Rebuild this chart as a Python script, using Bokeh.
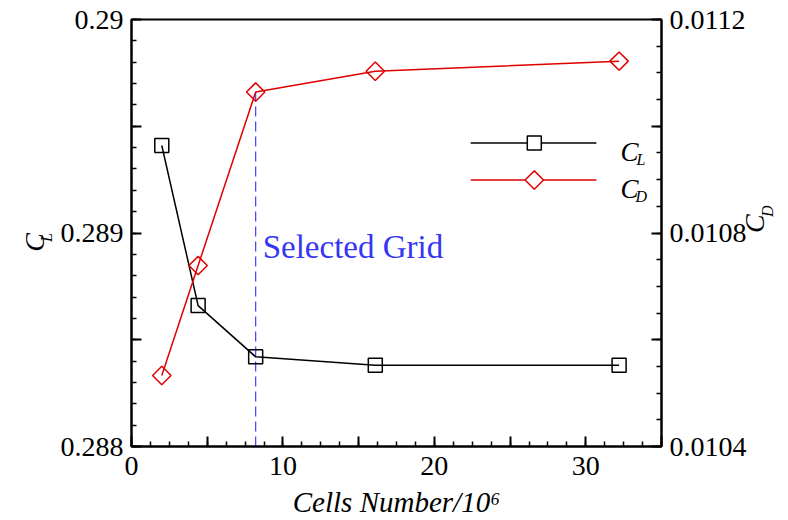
from bokeh.plotting import figure
from bokeh.models import Range1d, LinearAxis, FixedTicker, Label
from bokeh.embed import file_html
from bokeh.resources import INLINE

# ---------------- data ----------------
cells = [2.0, 4.4, 8.2, 16.1, 32.2]              # Cells Number / 10^6
cl = [0.28941, 0.28866, 0.28842, 0.28838, 0.28838]
cd = [0.010533, 0.010739, 0.011064, 0.011103, 0.011122]
selected_cells = 8.2
selected_text = "Selected Grid"

x_range = (0, 35)
cl_range = (0.288, 0.290)
cd_range = (0.0104, 0.0112)

x_major = [0, 5, 10, 15, 20, 25, 30, 35]
x_labels = ["0", "", "10", "", "20", "", "30", ""]
cl_major = [0.288, 0.2885, 0.289, 0.2895, 0.29]
cl_labels = ["0.288", "", "0.289", "", "0.29"]
cd_major = [0.0104, 0.0106, 0.0108, 0.011, 0.0112]
cd_labels = ["0.0104", "", "0.0108", "", "0.0112"]
x_minor_step = 1.25
cl_minor_step = 0.0001
cd_minor_step = 0.00005
x_title = "Cells Number/10\u2076"
cl_title, cl_sub = "C", "L"
cd_title, cd_sub = "C", "D"

# ---------------- styles ----------------
FONT = "Liberation Serif"
BLACK = "black"
RED = "#e00000"
BLUE = "#3535f5"
DASH_BLUE = "#3d3dff"
ENSP = "\u2002"
TICK_FONT = "28px"
UP = 1.5707963
LABEL_CAN_UNCLIP = "clip" in Label.properties()


def minor_list(lo, hi, step):
    n = int(round((hi - lo) / step))
    return [lo + i * step for i in range(n + 1)]


p = figure(width=788, height=520,
           x_range=Range1d(*x_range), y_range=Range1d(*cl_range),
           output_backend="svg", toolbar_location=None,
           min_border_left=131, min_border_right=125,
           min_border_top=19, min_border_bottom=73)
p.extra_y_ranges = {"cd": Range1d(*cd_range)}
p.xgrid.visible = False
p.ygrid.visible = False
p.outline_line_color = BLACK
p.outline_line_width = 2
p.background_fill_color = "white"
p.border_fill_color = "white"

cd_axis = LinearAxis(y_range_name="cd")
p.add_layout(cd_axis, "right")


def style_axis(ax, major, labels, minor, standoff):
    ax.ticker = FixedTicker(ticks=major, minor_ticks=minor)
    ax.major_label_overrides = {k: v for k, v in zip(major, labels)}
    ax.axis_line_color = BLACK
    ax.axis_line_width = 2
    ax.major_tick_line_color = BLACK
    ax.major_tick_line_width = 2
    ax.minor_tick_line_color = BLACK
    ax.minor_tick_line_width = 1.5
    ax.major_tick_in = 10
    ax.major_tick_out = 0
    ax.minor_tick_in = 5
    ax.minor_tick_out = 0
    ax.major_label_text_font = FONT
    ax.major_label_text_font_size = TICK_FONT
    ax.major_label_text_color = BLACK
    ax.major_label_standoff = standoff


def set_title(ax, text, size, standoff, rotate=True):
    ax.axis_label = text
    ax.axis_label_text_font = FONT
    ax.axis_label_text_font_style = "italic"
    ax.axis_label_text_font_size = size
    ax.axis_label_text_color = BLACK
    ax.axis_label_standoff = standoff
    if rotate and "axis_label_orientation" in ax.properties():
        ax.axis_label_orientation = UP


def title_only_axis(place, range_name, text, size, standoff):
    ax = LinearAxis(y_range_name=range_name, ticker=FixedTicker(ticks=[], minor_ticks=[]))
    ax.axis_line_color = None
    ax.major_tick_line_color = None
    ax.minor_tick_line_color = None
    ax.major_label_text_font_size = "0px"
    ax.major_label_standoff = 0
    ax.major_tick_in = 0
    ax.major_tick_out = 0
    ax.minor_tick_in = 0
    ax.minor_tick_out = 0
    set_title(ax, text, size, standoff)
    p.add_layout(ax, place)
    return ax


style_axis(p.xaxis[0], x_major, x_labels, minor_list(*x_range, x_minor_step), 10)
style_axis(p.yaxis[0], cl_major, cl_labels, minor_list(*cl_range, cl_minor_step), 8)
style_axis(cd_axis, cd_major, cd_labels, minor_list(*cd_range, cd_minor_step), 8)

# x axis title
set_title(p.xaxis[0], x_title, "29px", 8, rotate=False)


def label(x, y, text, size, dx=0, dy=0, color=BLACK, italic=True, angle=0.0,
          free=False):
    kw = {}
    if free and LABEL_CAN_UNCLIP:
        kw["clip"] = False
    p.add_layout(Label(x=x, y=y, x_offset=dx, y_offset=dy, text=text, angle=angle,
                       text_font=FONT, text_font_size=size,
                       text_font_style="italic" if italic else "normal",
                       text_color=color, text_align="left",
                       text_baseline="alphabetic", **kw))


if LABEL_CAN_UNCLIP:
    # rotated axis titles with subscripts, drawn outside the frame
    label(x_range[0], cl_range[0], cl_title, "28px", dx=-94, dy=200, angle=UP, free=True)
    label(x_range[0], cl_range[0], cl_sub, "16px", dx=-85, dy=216, angle=UP, free=True)
    label(x_range[1], cl_range[0], cd_title, "28px", dx=112, dy=204, angle=UP, free=True)
    label(x_range[1], cl_range[0], cd_sub, "16px", dx=123, dy=214, angle=UP, free=True)
else:
    set_title(p.yaxis[0], ENSP + ENSP + cl_sub, "16px", 11)
    title_only_axis("left", "default", cl_title, "28px", -8)
    set_title(cd_axis, cd_title, "28px", 5)
    title_only_axis("right", "cd", ENSP + ENSP + cd_sub, "16px", -21)

# selected grid marker line (from the bottom up to the CD point)
sel_idx = cells.index(selected_cells)
p.line([selected_cells, selected_cells], [cd_range[0], cd[sel_idx]], y_range_name="cd",
       line_color=DASH_BLUE, line_width=1.2, line_dash="10 5")

# series
p.line(cells, cl, line_color=BLACK, line_width=1.5)
p.scatter(cells, cl, marker="square", size=14, line_color=BLACK, line_width=1.5,
          fill_color=None)
p.line(cells, cd, y_range_name="cd", line_color=RED, line_width=1.5)
p.scatter(cells, cd, y_range_name="cd", marker="square", angle=0.785398, size=13,
          line_color=RED, line_width=1.5, fill_color=None)

# legend (manual, with subscripts)
leg_x0, leg_x1 = 22.4, 30.7
leg_xm = 26.6
leg_y_cl, leg_y_cd = 0.289421, 0.289248
p.line([leg_x0, leg_x1], [leg_y_cl, leg_y_cl], line_color=BLACK, line_width=1.5)
p.scatter([leg_xm], [leg_y_cl], marker="square", size=14, line_color=BLACK,
          line_width=1.5, fill_color="white")
p.line([leg_x0, leg_x1], [leg_y_cd, leg_y_cd], line_color=RED, line_width=1.5)
p.scatter([leg_xm], [leg_y_cd], marker="square", angle=0.785398, size=13,
          line_color=RED, line_width=1.5, fill_color="white")

# legend texts
label(leg_x1, leg_y_cl, cl_title, "27px", dx=24, dy=-9)
label(leg_x1, leg_y_cl, cl_sub, "16px", dx=40, dy=-16)
label(leg_x1, leg_y_cd, cd_title, "27px", dx=24, dy=-9)
label(leg_x1, leg_y_cd, cd_sub, "16px", dx=39, dy=-16)

# selected grid text
label(selected_cells, cl_range[0], selected_text, "33px", dx=7, dy=200,
      color=BLUE, italic=False)

open("out.html", "w").write(file_html(p, INLINE))
